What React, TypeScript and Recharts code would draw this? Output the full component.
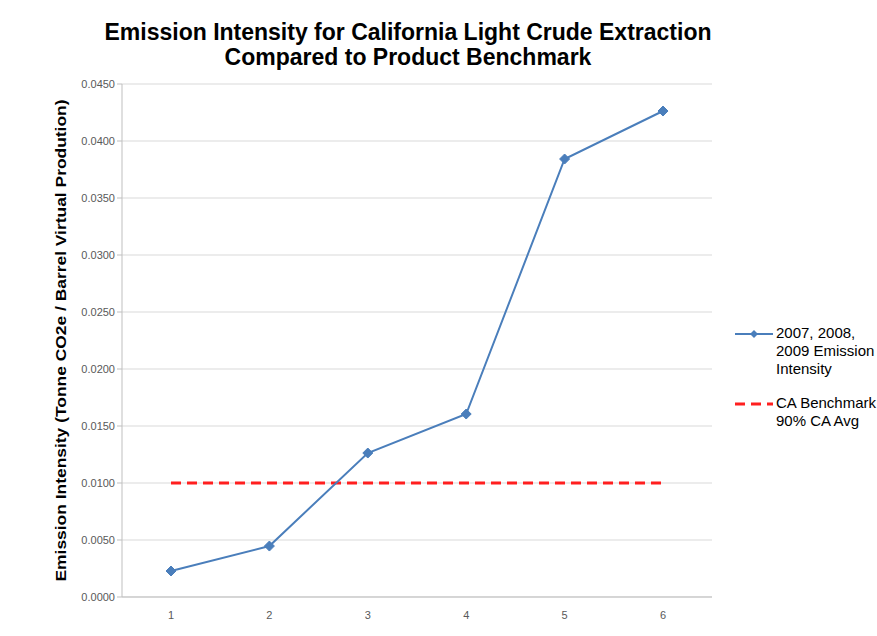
import React from 'react';
import { LineChart, Line, XAxis, YAxis, CartesianGrid } from 'recharts';

const categories = ['1', '2', '3', '4', '5', '6'];
const emissionIntensity = [0.00228, 0.00447, 0.01263, 0.01605, 0.03842, 0.04263];
const benchmark = [0.01, 0.01, 0.01, 0.01, 0.01, 0.01];
const yTicks = [0, 0.005, 0.01, 0.015, 0.02, 0.025, 0.03, 0.035, 0.04, 0.045];

const data = categories.map((c, i) => ({
  cat: c,
  emission: emissionIntensity[i],
  benchmark: benchmark[i],
}));

const FONT = '"Liberation Sans", Arial, sans-serif';
const BLUE = '#4a7ebb';
const RED = '#ff1f1f';
const Y_LABEL = 'Emission Intensity (Tonne CO2e / Barrel Virtual Prodution)';

const Diamond = (props: any) => {
  const { cx, cy } = props;
  if (cx == null || cy == null) return null;
  const r = 5;
  return (
    <polygon
      points={`${cx},${cy - r} ${cx + r},${cy} ${cx},${cy + r} ${cx - r},${cy}`}
      fill={BLUE}
      stroke={BLUE}
    />
  );
};

// rotated axis title, stretched to the length it has in the source
const YLabel = (props: any) => {
  const { viewBox } = props;
  const x = 66;
  const y = viewBox.y + viewBox.height / 2;
  return (
    <text
      x={x}
      y={y}
      transform={`rotate(-90 ${x} ${y})`}
      textAnchor="middle"
      fontSize={15}
      fontWeight="bold"
      fontFamily={FONT}
      fill="#000"
      textLength={482}
      lengthAdjust="spacingAndGlyphs"
    >
      {Y_LABEL}
    </text>
  );
};

export default function App() {
  return (
    <div style={{ position: 'absolute', left: 0, top: 0, width: 877, height: 636, background: '#fff', fontFamily: FONT }}>
      <div
        style={{
          position: 'absolute',
          left: 0,
          width: 816,
          top: 20,
          textAlign: 'center',
          fontWeight: 'bold',
          fontSize: 23,
          lineHeight: '25px',
          color: '#000',
        }}
      >
        Emission Intensity for California Light Crude Extraction
        <br />
        Compared to Product Benchmark
      </div>

      <LineChart width={877} height={636} data={data} margin={{ top: 84, right: 165, bottom: 9, left: 62 }}>
        <CartesianGrid vertical={false} stroke="#d9d9d9" />
        <XAxis
          dataKey="cat"
          padding={{ left: 49, right: 49 }}
          height={30}
          tickLine={false}
          axisLine={{ stroke: '#bfbfbf' }}
          tick={{ fontSize: 11, fill: '#595959', fontFamily: FONT }}
          tickMargin={8}
        />
        <YAxis
          width={60}
          domain={[0, 0.045]}
          ticks={yTicks}
          interval={0}
          tickFormatter={(v: number) => v.toFixed(4)}
          axisLine={{ stroke: '#bfbfbf' }}
          tickLine={{ stroke: '#bfbfbf' }}
          tickSize={5}
          tick={{ fontSize: 11, fill: '#595959', fontFamily: FONT }}
          label={<YLabel />}
        />
        <Line
          dataKey="benchmark"
          stroke={RED}
          strokeWidth={3}
          strokeDasharray="10 6"
          dot={false}
          activeDot={false}
          isAnimationActive={false}
        />
        <Line
          dataKey="emission"
          stroke={BLUE}
          strokeWidth={2}
          dot={<Diamond />}
          activeDot={false}
          isAnimationActive={false}
        />
      </LineChart>

      <div style={{ position: 'absolute', left: 735, top: 324, fontSize: 15, lineHeight: '18px', color: '#000' }}>
        <div style={{ position: 'relative', paddingLeft: 41 }}>
          <svg width={40} height={12} style={{ position: 'absolute', left: 0, top: 4 }}>
            <line x1={0} y1={6} x2={38} y2={6} stroke={BLUE} strokeWidth={2} />
            <polygon points="19,2 23,6 19,10 15,6" fill={BLUE} />
          </svg>
          2007, 2008,
          <br />
          2009 Emission
          <br />
          Intensity
        </div>
        <div style={{ position: 'relative', paddingLeft: 41, marginTop: 16 }}>
          <svg width={40} height={12} style={{ position: 'absolute', left: 0, top: 4 }}>
            <line x1={0} y1={6} x2={38} y2={6} stroke={RED} strokeWidth={3} strokeDasharray="10 6" />
          </svg>
          CA Benchmark
          <br />
          90% CA Avg
        </div>
      </div>
    </div>
  );
}
